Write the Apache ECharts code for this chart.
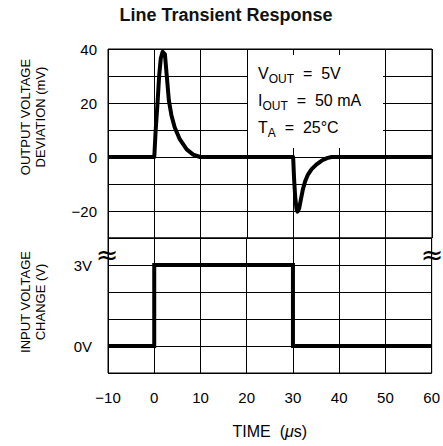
<!DOCTYPE html>
<html><head><meta charset="utf-8">
<script src="https://cdn.jsdelivr.net/npm/echarts@6/dist/echarts.min.js"></script>
<style>html,body{margin:0;padding:0;background:#fff}#c{width:443px;height:446px}</style>
</head><body><div id="c"></div>
<script>
// ---- data ----
const timeRange = [-10, 60];
const timeStep = 10;
const outRange = [-30, 40];      // mV
const outLabelValues = [40, 20, 0, -20];
const inRange = [-1, 4];         // V
const inLabelValues = [3, 0];
const outputDeviation = [
  [-10, 0], [0, 0], [0.3, 10], [0.7, 20], [1.05, 30], [1.4, 36.5], [1.8, 39], [2.3, 38], [2.65, 31],
  [3.15, 21], [3.7, 15.5], [4.4, 11], [5.5, 6.6], [7.0, 2.8], [8.4, 0.9], [9.9, 0],
  [30, 0], [30.2, -8], [30.45, -15], [30.75, -19.5], [30.95, -20.2], [31.3, -19], [31.7, -15.5],
  [32.1, -12], [32.6, -9], [33.2, -6.5], [34, -4.5], [35, -2.8], [36.2, -1.3], [37.3, -0.4], [38.3, 0], [60, 0]
];
const inputVoltage = [[-10, 0], [0, 0], [0, 3], [30, 3], [30, 0], [60, 0]];
const title = 'Line Transient Response';
const outName = 'OUTPUT VOLTAGE\nDEVIATION (mV)';
const inName = 'INPUT VOLTAGE\nCHANGE (V)';
const timeName = 'TIME  ({i|\u03bc}s)';
const conditions = [
  ['V', 'OUT', '  =  5V'],
  ['I', 'OUT', '  =  50 mA'],
  ['T', 'A', '  =  25°C']
];

// ---- chart ----
const FONT = 'Liberation Sans';
const chart = echarts.init(document.getElementById('c'), null, {renderer: 'svg'});
const splitStyle = {show: true, lineStyle: {color: '#000', width: 1}};
const fmtNum = v => (v < 0 ? '\u2212' + Math.abs(v) : String(v));
const hiddenX = gi => ({gridIndex: gi, type: 'value', show: false, min: 0, max: 1});
const nameY = (gi, name) => ({
  gridIndex: gi, type: 'value', min: 0, max: 1, show: true,
  axisLine: {show: false}, axisTick: {show: false}, axisLabel: {show: false}, splitLine: {show: false},
  name: name, nameLocation: 'middle', nameRotate: 90, nameGap: 60,
  nameTextStyle: {fontSize: 13, fontFamily: FONT, color: '#000', lineHeight: 15}
});

const titles = [
  {text: title, left: 226, top: 6, padding: 0, textAlign: 'center',
   textStyle: {fontSize: 18, fontWeight: 'bold', fontFamily: FONT, color: '#111'}},
  {text: '\u2248', left: 107, top: 254, padding: 0, textAlign: 'center', textVerticalAlign: 'middle',
   textStyle: {fontSize: 27, fontWeight: 'normal', fontFamily: 'DejaVu Sans', color: '#000'}},
  {text: '\u2248', left: 432, top: 254, padding: 0, textAlign: 'center', textVerticalAlign: 'middle',
   textStyle: {fontSize: 27, fontWeight: 'normal', fontFamily: 'DejaVu Sans', color: '#000'}}
];
conditions.forEach((c, i) => {
  titles.push({
    text: '{m|' + c[0] + '}{s|' + c[1] + '}{m|' + c[2] + '}',
    left: 258, top: 61 + i * 27, padding: 0, z: 12,
    textStyle: {
      fontWeight: 'normal',
      rich: {
        m: {fontSize: 16, fontWeight: 'normal', fontFamily: FONT, color: '#000'},
        s: {fontSize: 12, fontWeight: 'normal', fontFamily: FONT, color: '#000', padding: [12, 0, 0, 0]}
      }
    }
  });
});

const option = {
  animation: false,
  backgroundColor: '#fff',
  title: titles,
  grid: [
    {left: 108, top: 49, width: 324, height: 189, show: true, borderColor: '#000', borderWidth: 1},
    {left: 108, top: 238, width: 324, height: 135, show: true, borderColor: '#000', borderWidth: 1},
    {left: 108, top: 60, width: 324, height: 114, show: false},
    {left: 108, top: 250, width: 324, height: 104, show: false}
  ],
  xAxis: [
    {gridIndex: 0, type: 'value', min: timeRange[0], max: timeRange[1], interval: timeStep,
     axisLabel: {show: false}, axisTick: {show: false}, axisLine: {show: false}, splitLine: splitStyle},
    {gridIndex: 1, type: 'value', min: timeRange[0], max: timeRange[1], interval: timeStep,
     axisLabel: {show: true, formatter: fmtNum, fontSize: 15, fontFamily: FONT, color: '#000', margin: 17},
     axisTick: {show: false}, axisLine: {show: false}, splitLine: splitStyle,
     name: timeName, nameLocation: 'middle', nameGap: 50,
     nameTextStyle: {fontSize: 16, fontFamily: FONT, color: '#000',
       rich: {i: {fontSize: 16, fontFamily: FONT, fontStyle: 'italic', color: '#000'}}}},
    hiddenX(2), hiddenX(3)
  ],
  yAxis: [
    {gridIndex: 0, type: 'value', min: outRange[0], max: outRange[1], interval: 10,
     axisLabel: {show: true, fontSize: 15, fontFamily: FONT, color: '#000', margin: 11,
       formatter: v => (outLabelValues.indexOf(v) >= 0 ? fmtNum(v) : '')},
     axisTick: {show: false}, axisLine: {show: false}, splitLine: splitStyle},
    {gridIndex: 1, type: 'value', min: inRange[0], max: inRange[1], interval: 1,
     axisLabel: {show: true, fontSize: 15, fontFamily: FONT, color: '#000', margin: 16,
       formatter: v => (inLabelValues.indexOf(v) >= 0 ? v + 'V' : '')},
     axisTick: {show: false}, axisLine: {show: false}, splitLine: splitStyle},
    nameY(2, outName), nameY(3, inName)
  ],
  series: [
    {type: 'line', xAxisIndex: 0, yAxisIndex: 0, data: outputDeviation, showSymbol: false, z: 5,
     lineStyle: {color: '#000', width: 4, join: 'round'}},
    {type: 'line', xAxisIndex: 1, yAxisIndex: 1, data: inputVoltage, showSymbol: false, z: 5,
     lineStyle: {color: '#000', width: 4, join: 'miter'}}
  ],
  graphic: [
    {type: 'rect', z: 10, shape: {x: 248, y: 55, width: 135, height: 93}, style: {fill: '#fff'}}
  ]
};
chart.setOption(option);
</script>
</body></html>
